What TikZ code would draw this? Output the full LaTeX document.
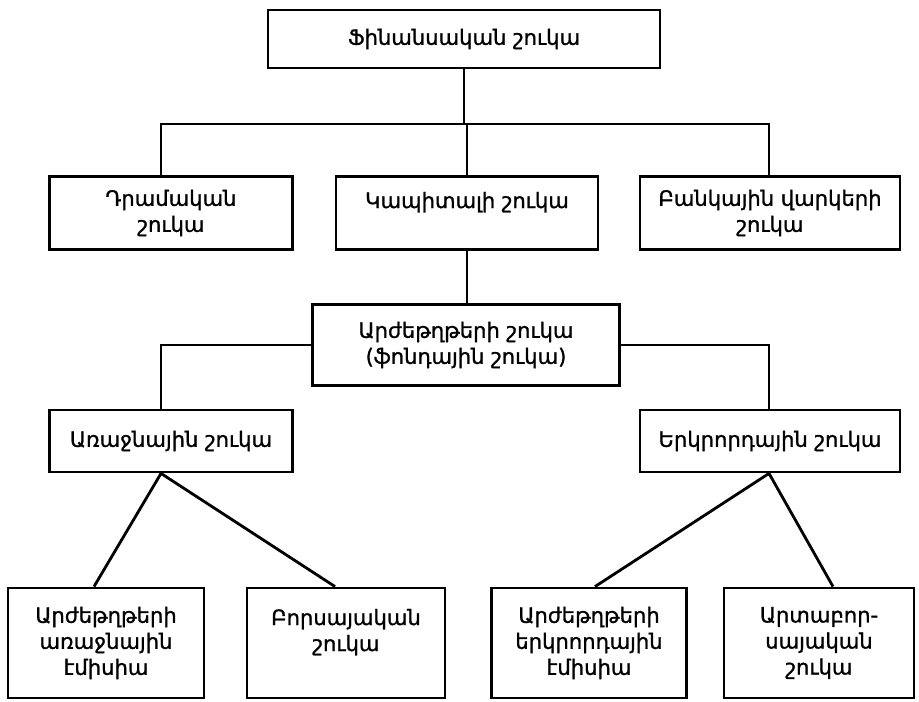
\documentclass[tikz,border=0pt]{standalone}
\usepackage{fontspec}
\setmainfont{DejaVu Sans}[FakeBold=1.2]
\usetikzlibrary{calc}

\begin{document}
\begin{tikzpicture}[
    x=0.025cm, y=-0.025cm,
    box/.style={rectangle, draw, line width=2pt, align=center, inner sep=2pt,
                font=\fontsize{15}{18.5}\selectfont},
    link/.style={line width=2pt}
]
\useasboundingbox (0,0) rectangle (919,702);

% top
\node[box, minimum width=9.8cm, minimum height=1.45cm] (fin) at (464,39) {Ֆինանսական շուկա};

% second row
\node[box, minimum width=6.075cm, minimum height=1.825cm] (money)   at (171,213) {Դրամական\\շուկա};
\node[box, minimum width=6.55cm,  minimum height=1.825cm] (capital) at (467,213) {Կապիտալի շուկա\\~};
\node[box, minimum width=6.5cm,   minimum height=1.825cm] (bank)    at (770,213) {Բանկային վարկերի\\շուկա};

% securities
\node[box, minimum width=7.675cm, minimum height=2.025cm] (sec) at (466,345) {Արժեթղթերի շուկա\\(ֆոնդային շուկա)};

% primary / secondary
\node[box, minimum width=6.075cm, minimum height=1.55cm] (primary)   at (171,441) {Առաջնային շուկա};
\node[box, minimum width=6.5cm,   minimum height=1.55cm] (secondary) at (770,441) {Երկրորդային շուկա};

% bottom row
\node[box, minimum width=4.9cm,   minimum height=2.75cm] (b1) at (106,643) {Արժեթղթերի\\առաջնային\\էմիսիա};
\node[box, minimum width=4.95cm,  minimum height=2.75cm] (b2) at (346,643) {Բորսայական\\շուկա\\~};
\node[box, minimum width=4.875cm, minimum height=2.75cm] (b3) at (589,643) {Արժեթղթերի\\երկրորդային\\էմիսիա};
\node[box, minimum width=4.75cm,  minimum height=2.75cm] (b4) at (819,643) {Արտաբոր-\\սայական\\շուկա};

% junctions
\coordinate (top)  at (466,124);
\coordinate (lcol) at (161,0);
\coordinate (rcol) at (769,0);

% tree lines
\draw[link] (fin.south) -- (fin.south |- top);
\draw[link] (money.north -| lcol) |- (top) -| (bank.north -| rcol);
\draw[link] (capital.north) -- (capital.north |- top);
\draw[link] (capital.south) -- (capital.south |- sec.north);
\draw[link] (sec.west) -| (primary.north -| lcol);
\draw[link] (sec.east) -| (secondary.north -| rcol);

% lower branches
\draw[link] ($(b1.north)+(-12,0)$) -- (primary.south -| lcol) -- ($(b2.north)+(-11,0)$);
\draw[link] ($(b3.north)+(6,0)$) -- (secondary.south -| rcol) -- ($(b4.north)+(14,0)$);

\end{tikzpicture}
\end{document}
